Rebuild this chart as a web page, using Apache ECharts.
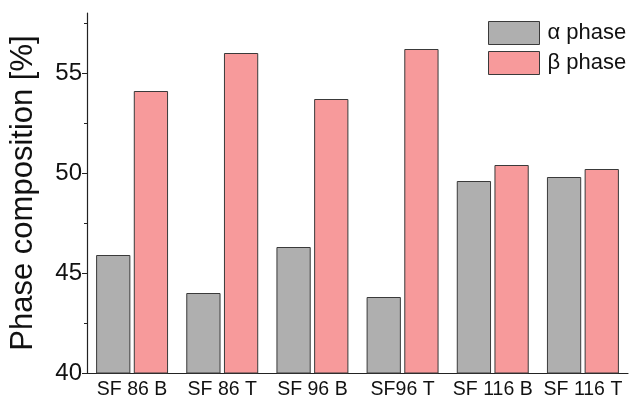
<!DOCTYPE html>
<html>
<head>
<meta charset="utf-8">
<style>html,body{margin:0;padding:0;background:#fff}#c{width:629px;height:400px}</style>
<script src="https://cdn.jsdelivr.net/npm/echarts@6/dist/echarts.min.js"></script>
</head>
<body>
<div id="c"></div>
<script>
const categories = ['SF 86 B', 'SF 86 T', 'SF 96 B', 'SF96 T', 'SF 116 B', 'SF 116 T'];
const alphaPhase = [45.9, 44.0, 46.3, 43.8, 49.6, 49.8];
const betaPhase = [54.1, 56.0, 53.7, 56.2, 50.4, 50.2];
const seriesNames = ['α phase', 'β phase'];
const yTicks = [40, 45, 50, 55];

const chart = echarts.init(document.getElementById('c'), null, {renderer: 'canvas'});
const font = 'Arial, "Liberation Sans", sans-serif';
chart.setOption({
  animation: false,
  backgroundColor: '#fff',
  grid: {left: 80, right: 1, top: 13, bottom: 25},
  legend: {
    orient: 'vertical',
    left: 483, top: 16,
    icon: 'rect',
    itemWidth: 51, itemHeight: 23, itemGap: 6,
    itemStyle: {borderColor: '#3a3a3a', borderWidth: 1},
    textStyle: {fontFamily: font, fontSize: 22, color: '#111', padding: [0, 0, 0, 3]},
    data: seriesNames
  },
  xAxis: {
    type: 'category',
    data: categories,
    axisLine: {lineStyle: {color: '#222', width: 1.2}},
    axisTick: {show: false},
    axisLabel: {fontFamily: font, fontSize: 19.5, color: '#111', margin: 7, interval: 0}
  },
  yAxis: {
    type: 'value',
    min: 40, max: 58, interval: 5,
    name: 'Phase composition [%]',
    nameLocation: 'middle',
    nameGap: 48,
    nameTextStyle: {fontFamily: font, fontSize: 31, color: '#111'},
    axisLine: {show: true, lineStyle: {color: '#222', width: 1.2}},
    axisTick: {show: true, length: 5, lineStyle: {color: '#222'}, customValues: yTicks},
    minorTick: {show: true, splitNumber: 2, length: 3, lineStyle: {color: '#222'}},
    splitLine: {show: false},
    axisLabel: {fontFamily: font, fontSize: 24, color: '#111', margin: 5, customValues: yTicks}
  },
  series: [
    {
      name: seriesNames[0], type: 'bar', data: alphaPhase,
      barWidth: '38%', barGap: '10%',
      itemStyle: {color: '#afafaf', borderColor: '#3a3a3a', borderWidth: 1}
    },
    {
      name: seriesNames[1], type: 'bar', data: betaPhase,
      barWidth: '38%', barGap: '10%',
      itemStyle: {color: '#f79a9b', borderColor: '#3a3a3a', borderWidth: 1}
    }
  ]
});
</script>
</body>
</html>
